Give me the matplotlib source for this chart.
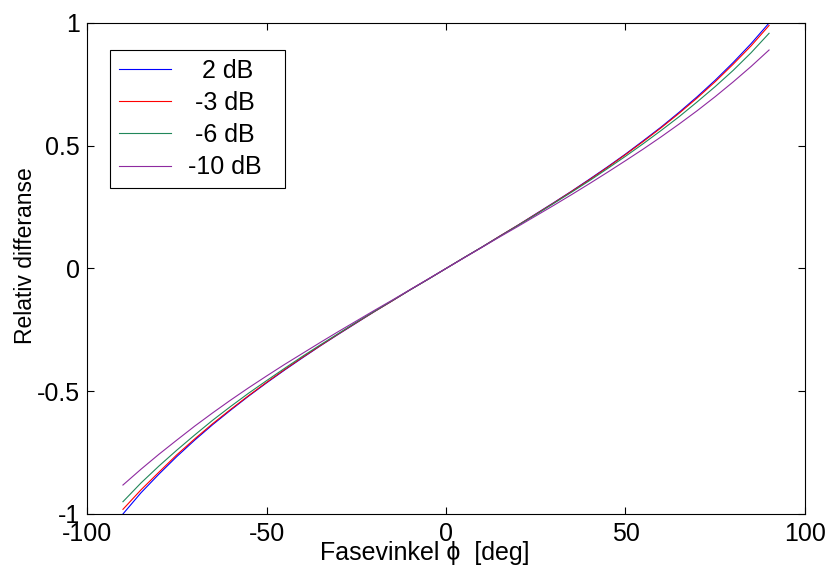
import matplotlib
matplotlib.use("Agg")
import matplotlib.pyplot as plt

phase_deg = [-90, -85, -80, -75, -70, -65, -60, -55, -50, -45, -40, -35, -30, -25, -20, -15, -10, -5,
             0, 5, 10, 15, 20, 25, 30, 35, 40, 45, 50, 55, 60, 65, 70, 75, 80, 85, 90]

series_labels = ["  2 dB", " -3 dB", " -6 dB", "-10 dB  "]

diff_2db = [-1.0, -0.914, -0.838, -0.766, -0.699, -0.636, -0.577, -0.520, -0.466, -0.414, -0.364, -0.315, -0.268, -0.222, -0.176, -0.132, -0.087, -0.044,
            0, 0.044, 0.087, 0.132, 0.176, 0.222, 0.268, 0.315, 0.364, 0.414, 0.466, 0.521, 0.577, 0.637, 0.700, 0.767, 0.839, 0.916, 1.0]
diff_m3db = [-0.981, -0.902, -0.830, -0.759, -0.694, -0.632, -0.574, -0.518, -0.464, -0.412, -0.362, -0.314, -0.267, -0.221, -0.176, -0.132, -0.087, -0.044,
             0, 0.044, 0.087, 0.132, 0.176, 0.221, 0.267, 0.314, 0.362, 0.412, 0.464, 0.518, 0.574, 0.633, 0.695, 0.761, 0.832, 0.907, 0.990]
diff_m6db = [-0.950, -0.874, -0.805, -0.740, -0.678, -0.618, -0.562, -0.508, -0.457, -0.407, -0.358, -0.311, -0.265, -0.219, -0.175, -0.131, -0.087, -0.044,
             0, 0.044, 0.087, 0.131, 0.175, 0.219, 0.265, 0.311, 0.358, 0.407, 0.457, 0.509, 0.563, 0.619, 0.679, 0.741, 0.807, 0.879, 0.958]
diff_m10db = [-0.882, -0.818, -0.757, -0.699, -0.642, -0.588, -0.536, -0.486, -0.438, -0.391, -0.346, -0.301, -0.257, -0.214, -0.171, -0.129, -0.086, -0.043,
              0, 0.043, 0.086, 0.129, 0.171, 0.214, 0.257, 0.301, 0.346, 0.392, 0.439, 0.487, 0.537, 0.589, 0.643, 0.700, 0.760, 0.823, 0.890]

series = [diff_2db, diff_m3db, diff_m6db, diff_m10db]
colors = ["#0000ff", "#ff0000", "#21875a", "#8e2aa0"]

xticks = [-100, -50, 0, 50, 100]
yticks = [-1, -0.5, 0, 0.5, 1]
ytick_labels = ["-1", "-0.5", "0", "0.5", "1"]

plt.rcParams['font.family'] = ['Liberation Sans', 'DejaVu Sans']

fig = plt.figure(figsize=(8.29, 5.72), dpi=100)
ax = fig.add_axes([0.105, 0.1014, 0.866, 0.8584])

for vals, col, lab in zip(series, colors, series_labels):
    ax.plot(phase_deg, vals, color=col, lw=0.8, label=lab)

ax.set_xlim(-100, 100)
ax.set_ylim(-1, 1)
ax.set_xticks(xticks)
ax.set_xticklabels([str(t) for t in xticks])
ax.set_yticks(yticks)
ax.set_yticklabels(ytick_labels)
ax.tick_params(direction='in', length=5, width=0.8, top=True, right=True,
               labelsize=18, colors='black')
ax.tick_params(axis='x', pad=6)
ax.tick_params(axis='y', pad=5)
for sp in ax.spines.values():
    sp.set_linewidth(0.8)

ax.set_xlabel("Fasevinkel \u03d5  [deg]", fontsize=18)
ax.xaxis.set_label_coords(0.47, -0.055)
ax.set_ylabel("Relativ differanse", fontsize=16.5)
ax.yaxis.set_label_coords(-0.0696, 0.527)

leg = ax.legend(loc='upper left', bbox_to_anchor=(0.032, 0.945), fontsize=18,
                frameon=True, fancybox=False, edgecolor='black', framealpha=1,
                handlelength=2.1, handletextpad=0.68, borderpad=0.35, labelspacing=0.33,
                borderaxespad=0)
leg.get_frame().set_linewidth(0.8)

fig.savefig("out.png", dpi=100)
